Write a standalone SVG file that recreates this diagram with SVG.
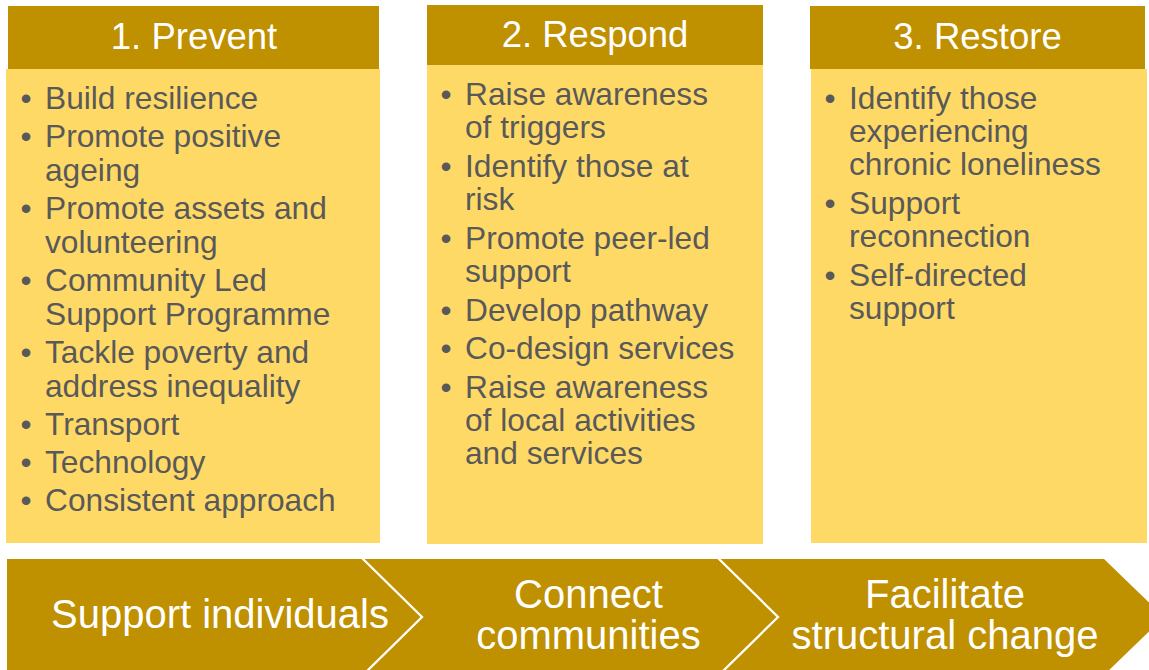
<svg xmlns="http://www.w3.org/2000/svg" width="1149" height="670" viewBox="0 0 1149 670">
<style>
.hdr{fill:#BF9000}
.body{fill:#FFD966}
.ht{font-family:"Liberation Sans",Arial,sans-serif;font-size:36.5px;fill:#FFFFFF;text-anchor:middle}
.bt{font-family:"Liberation Sans",Arial,sans-serif;font-size:31.7px;fill:#595959}
.bu{font-family:"Liberation Sans",Arial,sans-serif;font-size:31.7px;fill:#595959;text-anchor:middle}
.chev{fill:#BF9000}
.sep{fill:none;stroke:#FFFFFF;stroke-width:2.3}
.ct{font-family:"Liberation Sans",Arial,sans-serif;font-size:40px;fill:#FFFFFF;text-anchor:middle}
</style>
<rect width="1149" height="670" fill="#FFFFFF"/>

<g id="prevent">
<rect class="body" x="6" y="69" width="374" height="474"/>
<rect class="hdr" x="8" y="6" width="371" height="63"/>
<text class="ht" x="194" y="49">1. Prevent</text>
<g transform="translate(0,1)">
<text class="bu" x="26" y="108">•</text><text class="bt" x="45" y="108">Build resilience</text>
<text class="bu" x="26" y="146">•</text><text class="bt" x="45" y="146">Promote positive</text>
<text class="bt" x="45" y="180">ageing</text>
<text class="bu" x="26" y="218">•</text><text class="bt" x="45" y="218">Promote assets and</text>
<text class="bt" x="45" y="252">volunteering</text>
<text class="bu" x="26" y="290">•</text><text class="bt" x="45" y="290">Community Led</text>
<text class="bt" x="45" y="324">Support Programme</text>
<text class="bu" x="26" y="362">•</text><text class="bt" x="45" y="362">Tackle poverty and</text>
<text class="bt" x="45" y="396">address inequality</text>
<text class="bu" x="26" y="434">•</text><text class="bt" x="45" y="434">Transport</text>
<text class="bu" x="26" y="472">•</text><text class="bt" x="45" y="472">Technology</text>
<text class="bu" x="26" y="510">•</text><text class="bt" x="45" y="510">Consistent approach</text>
</g>
</g>

<g id="respond">
<rect class="body" x="427" y="65" width="336" height="479"/>
<rect class="hdr" x="427" y="5" width="336" height="60"/>
<text class="ht" x="595" y="47">2. Respond</text>
<g transform="translate(0,1)">
<text class="bu" x="446" y="104">•</text><text class="bt" x="465" y="104">Raise awareness</text>
<text class="bt" x="465" y="137">of triggers</text>
<text class="bu" x="446" y="176">•</text><text class="bt" x="465" y="176">Identify those at</text>
<text class="bt" x="465" y="209">risk</text>
<text class="bu" x="446" y="248">•</text><text class="bt" x="465" y="248">Promote peer-led</text>
<text class="bt" x="465" y="281">support</text>
<text class="bu" x="446" y="320">•</text><text class="bt" x="465" y="320">Develop pathway</text>
<text class="bu" x="446" y="358">•</text><text class="bt" x="465" y="358">Co-design services</text>
<text class="bu" x="446" y="397">•</text><text class="bt" x="465" y="397">Raise awareness</text>
<text class="bt" x="465" y="430">of local activities</text>
<text class="bt" x="465" y="463">and services</text>
</g>
</g>

<g id="restore">
<rect class="body" x="811" y="69" width="336" height="474"/>
<rect class="hdr" x="810" y="6" width="335" height="63"/>
<text class="ht" x="977.5" y="49">3. Restore</text>
<g transform="translate(0,1)">
<text class="bu" x="830" y="108">•</text><text class="bt" x="849" y="108">Identify those</text>
<text class="bt" x="849" y="141">experiencing</text>
<text class="bt" x="849" y="174">chronic loneliness</text>
<text class="bu" x="830" y="213">•</text><text class="bt" x="849" y="213">Support</text>
<text class="bt" x="849" y="246">reconnection</text>
<text class="bu" x="830" y="285">•</text><text class="bt" x="849" y="285">Self-directed</text>
<text class="bt" x="849" y="318">support</text>
</g>
</g>

<g id="support-individuals">
<polygon class="chev" points="7,559 362,559 422,617 362,675 7,675"/>
<text class="ct" x="220" y="628">Support individuals</text>
</g>
<g id="connect-communities">
<polygon class="chev" points="362,559 718,559 778,617 718,675 362,675 422,617"/>
<text class="ct" x="588.5" y="608">Connect</text>
<text class="ct" x="588.5" y="649">communities</text>
</g>
<g id="facilitate-structural-change">
<polygon class="chev" points="718,559 1104,559 1164,617 1104,675 718,675 778,617"/>
<text class="ct" x="945" y="608">Facilitate</text>
<text class="ct" x="945" y="649">structural change</text>
</g>

<g id="connectors">
<polyline class="sep" points="362,558 422,617 362,676"/>
<polyline class="sep" points="718,558 778,617 718,676"/>
</g>
</svg>
